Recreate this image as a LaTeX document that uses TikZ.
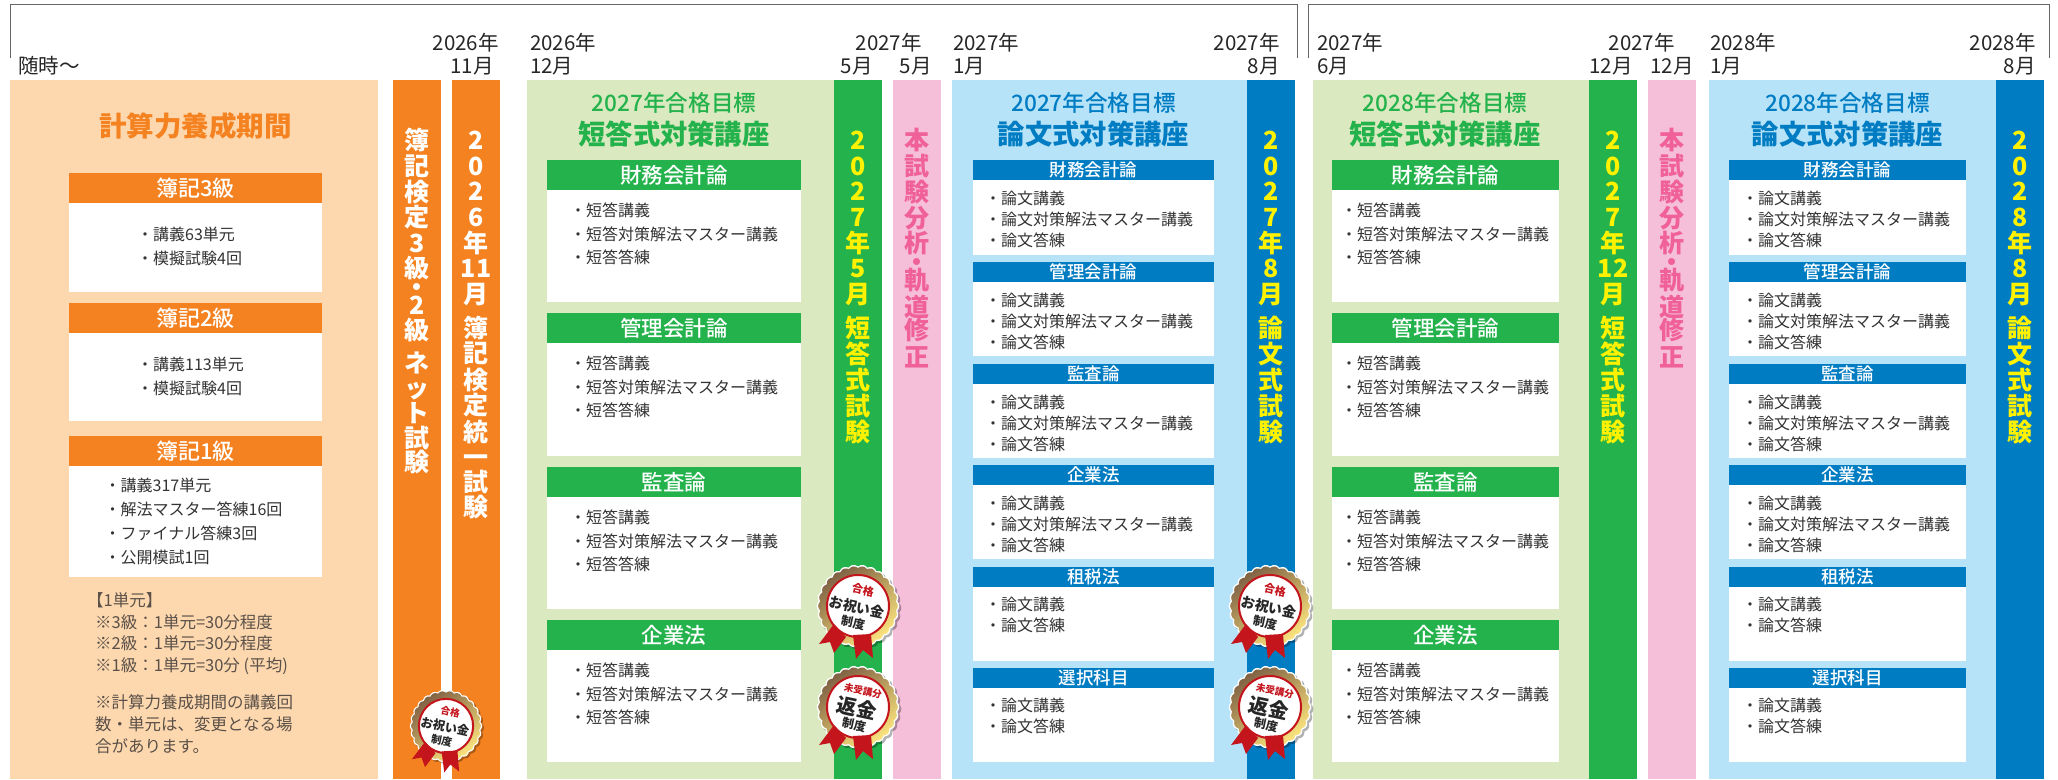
\documentclass[tikz,border=0pt]{standalone}
\usepackage{fontspec}
\setmainfont{Noto Sans CJK JP}
\newfontfamily\medfont{Noto Sans CJK JP Medium}
\definecolor{peachbg}{HTML}{FDD8AF}
\definecolor{orangebar}{HTML}{F58220}
\definecolor{greenbar}{HTML}{23B24B}
\definecolor{greenbg}{HTML}{DAE9BF}
\definecolor{bluebar}{HTML}{007CC3}
\definecolor{bluebg}{HTML}{B7E3F9}
\definecolor{pinkbg}{HTML}{F6BFD9}
\definecolor{pinktext}{HTML}{F0609A}
\definecolor{examyellow}{HTML}{FFF200}
\definecolor{bodytext}{HTML}{333333}
\definecolor{notetext}{HTML}{5A5048}
\definecolor{ribbonred}{HTML}{C4141C}
\definecolor{goldbrown}{HTML}{806244}
\definecolor{goldmid}{HTML}{D8B868}
\definecolor{goldlight}{HTML}{FCE57E}
\tikzset{
  txt/.style={font=\fontsize{#1}{#1}\selectfont,inner sep=0pt,text height=.88*#1pt,text depth=.12*#1pt},
  txtm/.style={font=\fontsize{#1}{#1}\selectfont\medfont,inner sep=0pt,text height=.88*#1pt,text depth=.12*#1pt},
  txtb/.style={font=\fontsize{#1}{#1}\selectfont\bfseries,inner sep=0pt,text height=.88*#1pt,text depth=.12*#1pt},
  datelabel/.style={txt=20.5,text=black!85},
  item/.style={txt=16,anchor=west,text=bodytext},
  note/.style={txt=16.5,anchor=west,text=notetext},
  stackch/.style={font=\fontsize{25}{25}\selectfont\bfseries,inner sep=0pt,text height=17.5pt,text depth=.5pt,yshift=-1pt},
  bracketline/.style={draw=black!60,line width=1pt},
}
% letters stacked down a bar, each at its own height
\newcommand{\StackText}[4]{
  \foreach \ch/\yy [count=\k] in {#4}
    \node[stackch,text=#3] (#1-\k) at (#2,\yy) {\ch};
}
% the four short-answer blocks of one green panel
\newcommand{\ShortBlocks}[4]{
  \foreach \yy/\yb/\ttl [count=\k] in {160/302/財務会計論,313/456/管理会計論,467/609/監査論,620/762/企業法} {
    \fill[white] (#2,\yy) rectangle (#3,\yb);
    \fill[greenbar] (#2,\yy) rectangle (#3,\yy+30);
    \node[txtm=21.5,text=white] (#1-head-\k) at ({(#2+#3)/2},\yy+15) {\ttl};
    \node[item] (#1-a-\k) at (#4,\yy+50) {・短答講義};
    \node[item] (#1-b-\k) at (#4,\yy+74) {・短答対策解法マスター講義};
    \node[item] (#1-c-\k) at (#4,\yy+97) {・短答答練};
  }
}
% the six essay blocks of one blue panel
\newcommand{\EssayBlocks}[4]{
  \foreach \yy/\yb/\ttl [count=\k] in {160/255/財務会計論,262/356/管理会計論,364/458/監査論,465/559/企業法} {
    \fill[white] (#2,\yy) rectangle (#3,\yb);
    \fill[bluebar] (#2,\yy) rectangle (#3,\yy+20);
    \node[txtm=17.5,text=white] (#1-head-\k) at ({(#2+#3)/2},\yy+10) {\ttl};
    \node[item] (#1-a-\k) at (#4,\yy+38) {・論文講義};
    \node[item] (#1-b-\k) at (#4,\yy+59) {・論文対策解法マスター講義};
    \node[item] (#1-c-\k) at (#4,\yy+80) {・論文答練};
  }
  \foreach \yy/\yb/\ttl [count=\k] in {567/661/租税法,668/762/選択科目} {
    \fill[white] (#2,\yy) rectangle (#3,\yb);
    \fill[bluebar] (#2,\yy) rectangle (#3,\yy+20);
    \node[txtm=17.5,text=white] (#1-headx-\k) at ({(#2+#3)/2},\yy+10) {\ttl};
    \node[item] (#1-ax-\k) at (#4,\yy+37) {・論文講義};
    \node[item] (#1-bx-\k) at (#4,\yy+58) {・論文答練};
  }
}
% gold rosette behind the medal texts
\newcommand{\MedalBase}{
  \fill[black,opacity=.3,shift={(2,2)}] plot[variable=\a,domain=0:360,samples=209] (\a:{39.5+1.8*abs(cos(13*\a))});
  \fill[white] plot[variable=\a,domain=0:360,samples=209] (\a:{39.5+1.8*abs(cos(13*\a))});
  \shade[left color=goldbrown,middle color=goldmid,right color=goldlight,shading angle=35]
    plot[variable=\a,domain=0:360,samples=209] (\a:{38+1.8*abs(cos(13*\a))});
  \filldraw[fill=white,draw=ribbonred,line width=2pt] (0,0) circle (31);
  \fill[ribbonred] (-24,18) -- (-39,38) -- (-28,36) -- (-24,47) -- (-12,31) -- cycle;
  \fill[ribbonred] (-5,29) -- (13,28) -- (15,52) -- (5,44) -- (-2,53) -- cycle;
}
\newcommand{\OiwaiMedal}[4]{
  \begin{scope}[shift={(#2,#3)},scale=#4,transform shape]
    \MedalBase
    \node[txtb=11,text=ribbonred,rotate=-12] (#1-top) at (5,-16) {合格};
    \node[txtb=14,text=black!85,rotate=-12] (#1-mid) at (-1,1) {お祝い金};
    \node[txtb=12,text=black!85,rotate=-12] (#1-low) at (-5,17) {制度};
  \end{scope}
}
\newcommand{\HenkinMedal}[4]{
  \begin{scope}[shift={(#2,#3)},scale=#4,transform shape]
    \MedalBase
    \node[txtb=9.5,text=ribbonred,rotate=-12] (#1-top) at (5,-16) {未受講分};
    \node[txtb=20,text=black!85,rotate=-12] (#1-mid) at (-1,1) {返金};
    \node[txtb=12,text=black!85,rotate=-12] (#1-low) at (-4,18) {制度};
  \end{scope}
}
\begin{document}
\begin{tikzpicture}[x=1pt,y=-1pt]
  \useasboundingbox (0,0) rectangle (2058,779);

  % brackets over the years
  \draw[bracketline] (10,58) |- (1297.5,4) -- (1297.5,58);
  \draw[bracketline] (1308.5,58) |- (2049,4) -- (2049,58);

  % panels and bars
  \fill[peachbg] (10,80) rectangle (378,779);
  \fill[orangebar] (393,80) rectangle (441,779);
  \fill[orangebar] (452,80) rectangle (500,779);
  \foreach \xa/\xb/\xc/\xd/\xe/\xf/\xg in {527/834/882/893/941/952/1247,1313/1589/1637/1648/1696/1709/1996} {
    \fill[greenbg] (\xa,80) rectangle (\xb,779);
    \fill[greenbar] (\xb,80) rectangle (\xc,779);
    \fill[pinkbg] (\xd,80) rectangle (\xe,779);
    \fill[bluebg] (\xf,80) rectangle (\xg,779);
    \fill[bluebar] (\xg,80) rectangle ({\xg+48},779);
  }

  % dates
  \node[datelabel,anchor=west] (start) at (18,66) {随時〜};
  \foreach \x/\y/\an/\s [count=\k] in {499/43/east/2026年,494/66/east/11月,530/43/west/2026年,530/66/west/12月,
      922/43/east/2027年,873/66/east/5月,932/66/east/5月,953/43/west/2027年,953/66/west/1月,1280/43/east/2027年,1280/66/east/8月,
      1317/43/west/2027年,1317/66/west/6月,1675/43/east/2027年,1633/66/east/12月,1694/66/east/12月,1710/43/west/2028年,1710/66/west/1月,
      2036/43/east/2028年,2036/66/east/8月}
    \node[datelabel,anchor=\an] (date-\k) at (\x,\y) {\s};

  % peach panel
  \node[txtb=27.5,text=orangebar] (calc) at (195.5,126) {計算力養成期間};
  \foreach \yy/\yh/\yb/\ttl [count=\k] in {173/203/292/簿記3級,303/333/421/簿記2級,436/466/577/簿記1級} {
    \fill[white] (69,\yh) rectangle (322,\yb);
    \fill[orangebar] (69,\yy) rectangle (322,\yh);
    \node[txtm=22,text=white] (grade-\k) at (195.5,\yy+15) {\ttl};
  }
  \node[item] (g3a) at (137,234) {・講義63単元};
  \node[item] (g3b) at (137,258) {・模擬試験4回};
  \node[item] (g2a) at (137,364) {・講義113単元};
  \node[item] (g2b) at (137,388) {・模擬試験4回};
  \node[item] (g1a) at (104.5,485) {・講義317単元};
  \node[item] (g1b) at (104.5,509) {・解法マスター答練16回};
  \node[item] (g1c) at (104.5,533) {・ファイナル答練3回};
  \node[item] (g1d) at (104.5,557) {・公開模試1回};
  \node[note] (n1) at (87,600) {【1単元】};
  \node[note] (n2) at (95,622) {※3級：1単元=30分程度};
  \node[note] (n3) at (95,643) {※2級：1単元=30分程度};
  \node[note] (n4) at (95,665) {※1級：1単元=30分 (平均)};
  \node[note] (n5) at (95,702) {※計算力養成期間の講義回};
  \node[note] (n6) at (95,724) {数・単元は、変更となる場};
  \node[note] (n7) at (95,746) {合があります。};

  % course panels
  \foreach \xm/\yr/\c/\ttl/\nm in {674/2027/greenbar/短答式対策講座/ta,1093.5/2027/bluebar/論文式対策講座/tb,1445/2028/greenbar/短答式対策講座/tc,1847.5/2028/bluebar/論文式対策講座/td} {
    \node[txtm=22.6,text=\c] (\nm-year) at (\xm,103) {\yr 年合格目標};
    \node[txtb=27.3,text=\c] (\nm-name) at (\xm,134) {\ttl};
  }
  \ShortBlocks{sa}{547}{801}{570}
  \EssayBlocks{ea}{973}{1214}{985}
  \ShortBlocks{sb}{1332}{1559}{1341}
  \EssayBlocks{eb}{1729}{1966}{1742}

  % text down the bars
  \StackText{net}{417}{white}{簿/140,記/166,検/192,定/217,3/243,級/268,・/287,2/305,級/330,ネ/363,ッ/388,ト/413,試/438,験/462}
  \StackText{toitsu}{476}{white}{2/140,0/166,2/191,6/217,年/243,11/268,月/294,簿/328,記/353,検/380,定/405,統/432,一/457,試/482,験/507}
  \StackText{examsa}{858}{examyellow}{2/140,0/166,2/191,7/217,年/243,5/268,月/294,短/328,答/354,式/380,試/406,験/432}
  \StackText{analysa}{917}{pinktext}{本/140,試/166,験/192,分/218,析/243,・/262,軌/280,道/307,修/330,正/357}
  \StackText{examea}{1271}{examyellow}{2/140,0/166,2/191,7/217,年/243,8/268,月/294,論/328,文/354,式/380,試/406,験/432}
  \StackText{examsb}{1613}{examyellow}{2/140,0/166,2/191,7/217,年/243,12/268,月/294,短/328,答/354,式/380,試/406,験/432}
  \StackText{analysb}{1672}{pinktext}{本/140,試/166,験/192,分/218,析/243,・/262,軌/280,道/307,修/330,正/357}
  \StackText{exameb}{2020}{examyellow}{2/140,0/166,2/191,8/217,年/243,8/268,月/294,論/328,文/354,式/380,試/406,験/432}

  % medals
  \OiwaiMedal{m1}{446}{726}{.875}
  \OiwaiMedal{m2}{858}{606}{1}
  \HenkinMedal{m3}{858}{707}{1}
  \OiwaiMedal{m4}{1270}{606}{1}
  \HenkinMedal{m5}{1270}{707}{1}
\end{tikzpicture}
\end{document}
